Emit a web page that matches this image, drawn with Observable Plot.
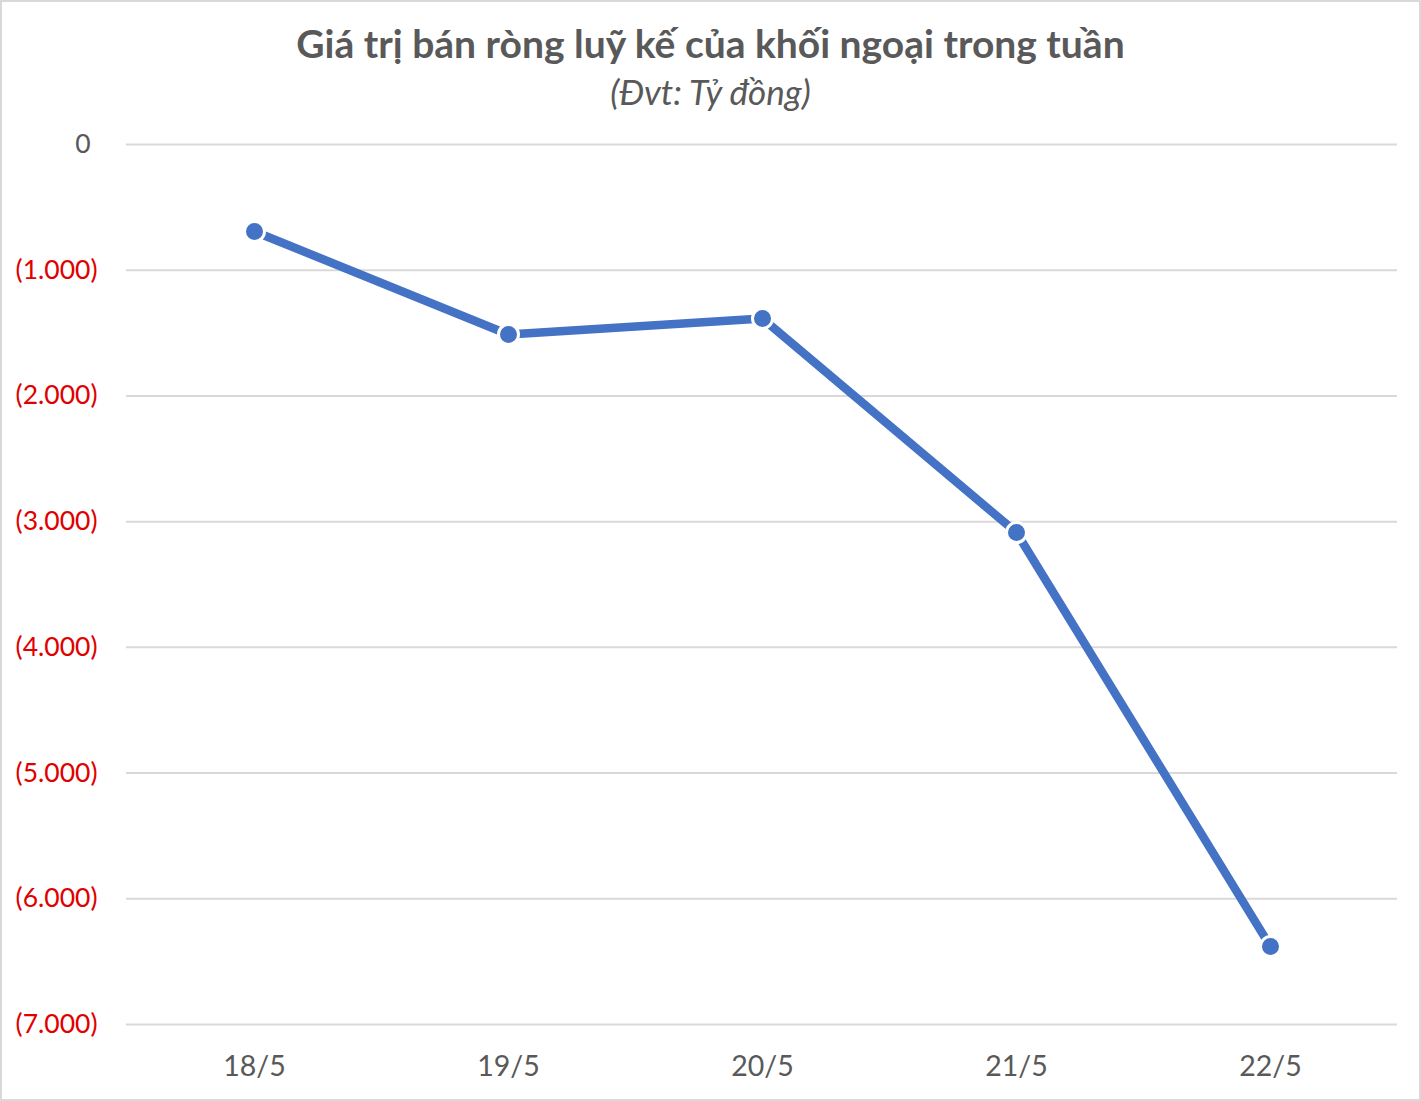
<!DOCTYPE html>
<html>
<head>
<meta charset="utf-8">
<script src="https://cdn.jsdelivr.net/npm/d3@7"></script>
<script src="https://cdn.jsdelivr.net/npm/@observablehq/plot@0.6"></script>
<style>
  html, body { margin: 0; padding: 0; background: #fff; }
  #wrap { position: relative; width: 1421px; height: 1101px; box-shadow: inset 0 0 0 2px #d9d9d9; font-family: Lato, "Noto Sans", sans-serif; overflow: hidden; }
  #title { position: absolute; left: 0; width: 1421px; top: 18px; text-align: center; font-size: 39px; font-weight: bold; color: #595959; line-height: 50px; }
  #subtitle { position: absolute; left: 0; width: 1421px; top: 68px; text-align: center; font-size: 35px; font-style: italic; color: #595959; line-height: 46px; }
  #chart { position: absolute; left: 0; top: 115px; }
</style>
</head>
<body>
<div id="wrap">
  <div id="title">Giá trị bán ròng luỹ kế của khối ngoại trong tuần</div>
  <div id="subtitle">(Đvt: Tỷ đồng)</div>
  <div id="chart"></div>
</div>
<script>
const dates = ["18/5", "19/5", "20/5", "21/5", "22/5"];
const values = [-692, -1511, -1384, -3087, -6380];
const negTicks = [-1000, -2000, -3000, -4000, -5000, -6000, -7000];
const zeroTick = [0];
const gridTicks = [0, -1000, -2000, -3000, -4000, -5000, -6000, -7000];

const data = dates.map((d, i) => ({date: d, value: values[i]}));
const fmt = d => d === 0 ? "0" : `(${d3.format(",")(-d).replace(/,/g, ".")})`;

const plot = Plot.plot({
  width: 1421,
  height: 984,
  marginTop: 29,
  marginBottom: 75,
  marginLeft: 126,
  marginRight: 24,
  style: { fontFamily: "Lato, 'Noto Sans', sans-serif", fontSize: "26px", background: "transparent" },
  x: { type: "point", domain: dates, padding: 0.5 },
  y: { domain: [-7000, 0] },
  marks: [
    Plot.ruleY(gridTicks, { stroke: "#d9d9d9", strokeWidth: 2 }),
    Plot.axisY(negTicks, { tickSize: 0, tickPadding: 29, tickFormat: fmt, fill: "#e00000", fontSize: 26.5, label: null }),
    Plot.axisY(zeroTick, { tickSize: 0, tickPadding: 36, tickFormat: fmt, fill: "#595959", fontSize: 26.5, label: null }),
    Plot.axisX({ tickSize: 0, tickPadding: 31, fill: "#595959", fontSize: 28.5, label: null }),
    Plot.line(data, { x: "date", y: "value", stroke: "#4472C4", strokeWidth: 8.5 }),
    Plot.dot(data, { x: "date", y: "value", r: 10, fill: "#4472C4", stroke: "#fff", strokeWidth: 3 })
  ]
});
document.getElementById("chart").appendChild(plot);
</script>
</body>
</html>
